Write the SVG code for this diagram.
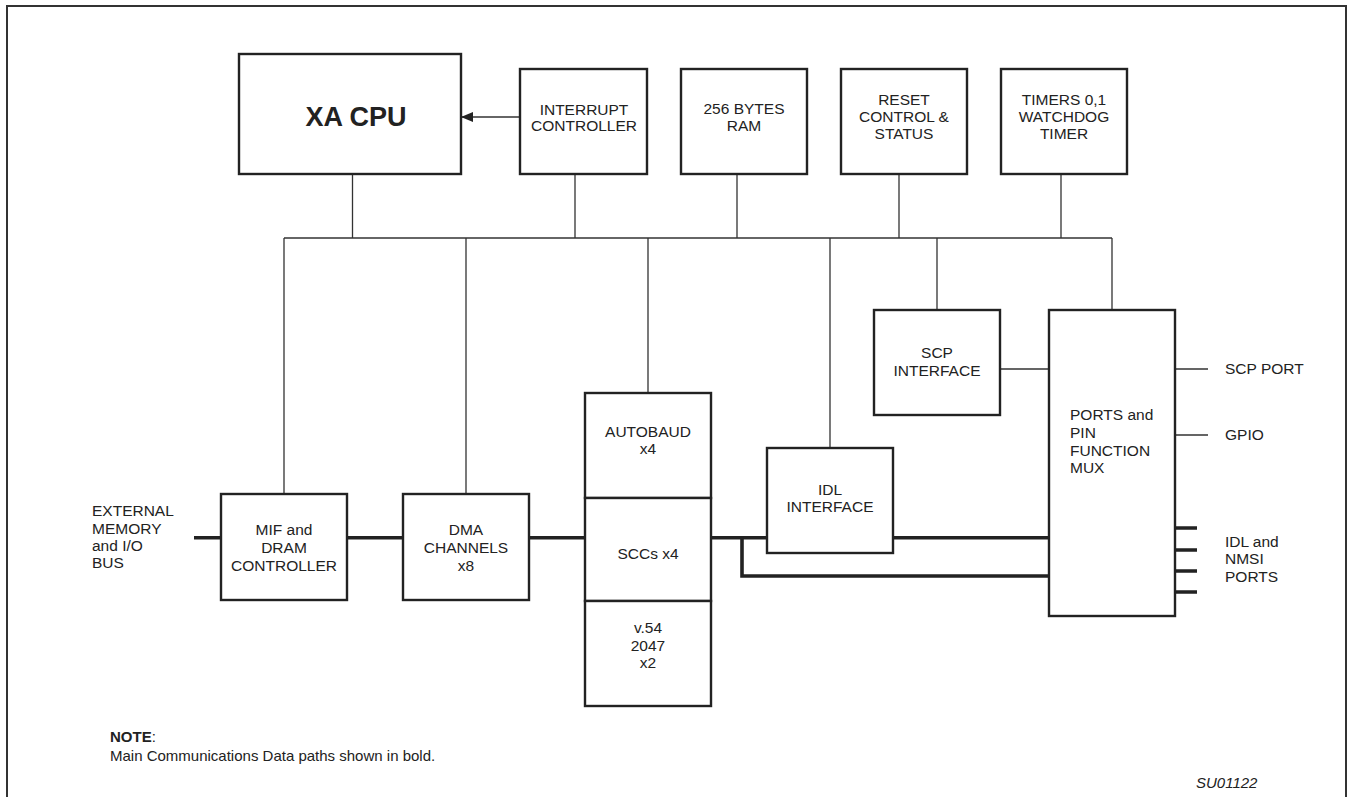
<svg xmlns="http://www.w3.org/2000/svg" width="1354" height="797" viewBox="0 0 1354 797">
<defs>
<style>
.box{fill:#fff;stroke:#222;stroke-width:2.4}
.thin{fill:none;stroke:#333;stroke-width:1.3}
.bold{fill:none;stroke:#222;stroke-width:3.6}
text{font-family:"Liberation Sans",Arial,sans-serif;font-size:15.5px;fill:#222}
.c{text-anchor:middle}
</style>
<marker id="ah" markerWidth="12" markerHeight="10" refX="11" refY="5" orient="auto" markerUnits="userSpaceOnUse">
<path d="M0,0 L12,5 L0,10 Z" fill="#222"/>
</marker>
</defs>
<rect width="1354" height="797" fill="#fff"/>
<path d="M7,800 V6 H1346 V800" fill="none" stroke="#333" stroke-width="2"/>

<g id="connectors">
<line class="thin" x1="520" y1="117" x2="462" y2="117" marker-end="url(#ah)"/>
<path class="thin" d="M352.5,174V238M575,174V238M737,174V238M899,174V238M1061,174V238"/>
<path class="thin" d="M284,238H1112"/>
<path class="thin" d="M284,238V494M466,238V494M648,238V393M830,238V448M937,238V310M1112,238V310"/>
<path class="thin" d="M1000,369H1049M1175,369H1208M1175,435H1208"/>
<path class="bold" d="M194,537.7H221M347,537.7H403M529,537.7H585M711,537.7H767M893,537.7H1049"/>
<path class="bold" d="M742,537.7V576H1049"/>
<path class="bold" d="M1175,528H1197M1175,550H1197M1175,571H1197M1175,592H1197"/>
</g>

<g id="xa-cpu">
<rect class="box" x="239" y="54" width="222" height="120"/>
<text class="c" x="356" y="126" style="font-size:27px;font-weight:bold">XA CPU</text>
</g>
<g id="interrupt-controller">
<rect class="box" x="520" y="69" width="127" height="105"/>
<text class="c" x="584" y="115">INTERRUPT</text>
<text class="c" x="584" y="131">CONTROLLER</text>
</g>
<g id="ram">
<rect class="box" x="681" y="69" width="126" height="105"/>
<text class="c" x="744" y="114">256 BYTES</text>
<text class="c" x="744" y="131">RAM</text>
</g>
<g id="reset">
<rect class="box" x="841" y="69" width="126" height="105"/>
<text class="c" x="904" y="105">RESET</text>
<text class="c" x="904" y="122">CONTROL &amp;</text>
<text class="c" x="904" y="139">STATUS</text>
</g>
<g id="timers">
<rect class="box" x="1001" y="69" width="126" height="105"/>
<text class="c" x="1064" y="105">TIMERS 0,1</text>
<text class="c" x="1064" y="122">WATCHDOG</text>
<text class="c" x="1064" y="139">TIMER</text>
</g>
<g id="mif">
<rect class="box" x="221" y="494" width="126" height="106"/>
<text class="c" x="284" y="535">MIF and</text>
<text class="c" x="284" y="553">DRAM</text>
<text class="c" x="284" y="571">CONTROLLER</text>
</g>
<g id="dma">
<rect class="box" x="403" y="494" width="126" height="106"/>
<text class="c" x="466" y="535">DMA</text>
<text class="c" x="466" y="553">CHANNELS</text>
<text class="c" x="466" y="571">x8</text>
</g>
<g id="autobaud">
<rect class="box" x="585" y="393" width="126" height="105"/>
<text class="c" x="648" y="437">AUTOBAUD</text>
<text class="c" x="648" y="454">x4</text>
</g>
<g id="sccs">
<rect class="box" x="585" y="498" width="126" height="103"/>
<text class="c" x="648" y="559">SCCs x4</text>
</g>
<g id="v54">
<rect class="box" x="585" y="601" width="126" height="105"/>
<text class="c" x="648" y="633">v.54</text>
<text class="c" x="648" y="651">2047</text>
<text class="c" x="648" y="668">x2</text>
</g>
<g id="idl-interface">
<rect class="box" x="767" y="448" width="126" height="105"/>
<text class="c" x="830" y="495">IDL</text>
<text class="c" x="830" y="512">INTERFACE</text>
</g>
<g id="scp-interface">
<rect class="box" x="874" y="310" width="126" height="105"/>
<text class="c" x="937" y="358">SCP</text>
<text class="c" x="937" y="376">INTERFACE</text>
</g>
<g id="ports-mux">
<rect class="box" x="1049" y="310" width="126" height="306"/>
<text x="1070" y="420">PORTS and</text>
<text x="1070" y="438">PIN</text>
<text x="1070" y="456">FUNCTION</text>
<text x="1070" y="473">MUX</text>
</g>
<g id="ext-labels">
<text x="92" y="516">EXTERNAL</text>
<text x="92" y="534">MEMORY</text>
<text x="92" y="551">and I/O</text>
<text x="92" y="568">BUS</text>
<text x="1225" y="374">SCP PORT</text>
<text x="1225" y="440">GPIO</text>
<text x="1225" y="547">IDL and</text>
<text x="1225" y="564">NMSI</text>
<text x="1225" y="582">PORTS</text>
</g>
<g id="notes">
<text x="110" y="742" style="font-size:15px"><tspan font-weight="bold">NOTE</tspan>:</text>
<text x="110" y="761" style="font-size:15px">Main Communications Data paths shown in bold.</text>
<text x="1196" y="788" style="font-style:italic;font-size:15px">SU01122</text>
</g>
</svg>
